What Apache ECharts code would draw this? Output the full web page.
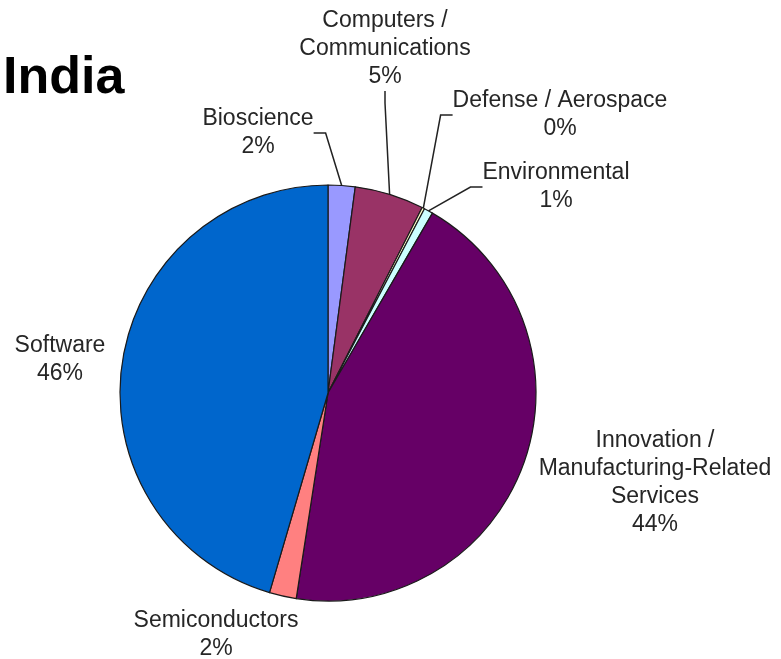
<!DOCTYPE html>
<html>
<head>
<meta charset="utf-8">
<script src="https://cdn.jsdelivr.net/npm/echarts@6/dist/echarts.min.js"></script>
<style>
  html, body { margin: 0; padding: 0; background: #fff; }
  #chart { width: 781px; height: 659px; }
</style>
</head>
<body>
<div id="chart"></div>
<script>
// shares (label text is rounded)
var sectors = ['Bioscience', 'Computers /\nCommunications', 'Defense / Aerospace', 'Environmental',
               'Innovation /\nManufacturing-Related\nServices', 'Semiconductors', 'Software'];
var shares = [2.1, 5.4, 0.2, 0.7, 44.2, 2.1, 45.6];
var colors = ['#9999FF', '#993366', '#FFFFCC', '#CCFFFF', '#660066', '#FF8080', '#0066CC'];
// where each label block is centred, and whether it gets a leader line
var labelPos = [[258, 133], [385, 49], [560, 115], [556, 187], [655, 483], [216, 635], [60, 360]];
var hasLine = [true, true, true, true, false, false, false];

var chart = echarts.init(document.getElementById('chart'));

var pieData = [];
for (var i = 0; i < sectors.length; i++) {
    pieData.push({
        name: sectors[i],
        value: shares[i],
        itemStyle: { color: colors[i] },
        labelLine: { show: hasLine[i] }
    });
}

var option = {
    animation: false,
    title: {
        text: 'India',
        left: -2,
        top: 48,
        textStyle: { fontFamily: 'Liberation Sans', fontWeight: 'bold', fontSize: 52, color: '#000' }
    },
    series: [{
        type: 'pie',
        center: [328, 393],
        radius: 208,
        startAngle: 90,
        clockwise: true,
        avoidLabelOverlap: false,
        itemStyle: { borderColor: '#1a1a1a', borderWidth: 1.2 },
        label: {
            show: true,
            position: 'outside',
            fontFamily: 'Liberation Sans',
            fontSize: 23,
            lineHeight: 28,
            color: '#262626',
            align: 'center',
            formatter: function (p) {
                return p.name + '\n' + Math.round(p.value) + '%';
            }
        },
        labelLine: {
            show: true,
            length: 10,
            length2: 12,
            lineStyle: { color: '#222', width: 1.5 }
        },
        labelLayout: function (p) {
            var pos = labelPos[p.dataIndex];
            return { x: pos[0], y: pos[1], align: 'center', verticalAlign: 'middle' };
        },
        emphasis: { disabled: true },
        data: pieData
    }]
};

chart.setOption(option);
</script>
</body>
</html>
